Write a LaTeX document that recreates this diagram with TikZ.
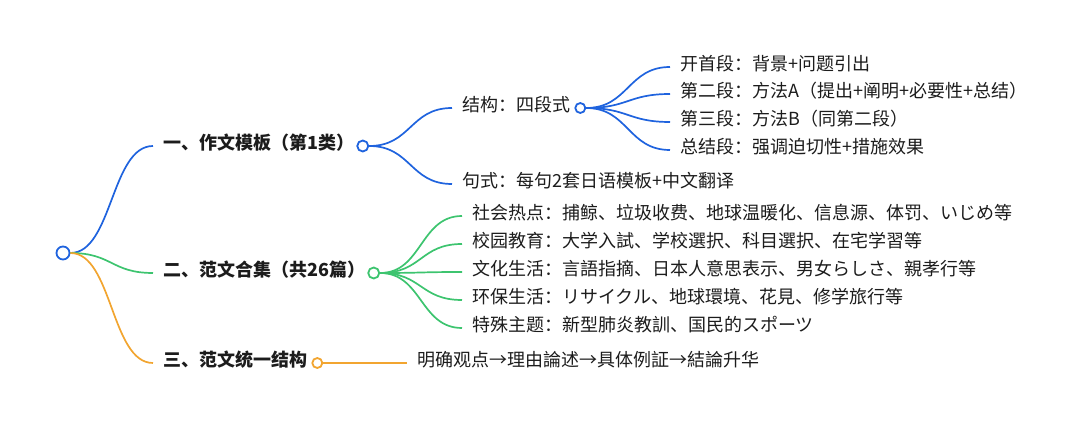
\documentclass[tikz,border=0pt]{standalone}
\usepackage{fontspec}
\setmainfont{Noto Sans CJK SC}
\definecolor{cblue}{HTML}{1F63DE}
\definecolor{cgreen}{HTML}{3DC46F}
\definecolor{corange}{HTML}{F2A530}
\definecolor{txt}{HTML}{1C1C1C}
\begin{document}
\begin{tikzpicture}[x=1pt,y=-1pt,
  lbl/.style={anchor=west, inner xsep=0pt, inner ysep=0pt, text height=0.76em, text depth=0pt,
    font=\fontsize{18}{18}\selectfont, text=txt},
  hlbl/.style={lbl, font=\fontsize{18}{18}\selectfont\bfseries},
  dot/.style={circle, draw, fill=white, line width=1.8pt, inner sep=0pt, minimum size=#1},
  link/.style={line width=1.7pt}]
\useasboundingbox (0,0) rectangle (1080,427);

% root
\node[dot=13pt, draw=cblue] (root) at (63,253) {};

% level 1
\node[hlbl] (n1) at (163,146) {一、作文模板（第1类）};
\node[hlbl] (n2) at (163,273) {二、范文合集（共26篇）};
\node[hlbl] (n3) at (163,363) {三、范文统一结构};
\node[dot=11pt, draw=cblue, anchor=west] (c1) at ([xshift=2pt]n1.east) {};
\node[dot=11pt, draw=cgreen, anchor=west] (c2) at ([xshift=2pt]n2.east) {};
\node[dot=10pt, draw=corange, anchor=west] (c3) at ([xshift=4pt]n3.east) {};

\draw[link, cblue] (root.east) .. controls +(42,0) and +(-42,0) .. ([xshift=-10pt]n1.west);
\draw[link, cgreen] (root.east) .. controls +(42,0) and +(-42,0) .. ([xshift=-10pt]n2.west);
\draw[link, corange] (root.east) .. controls +(42,0) and +(-42,0) .. ([xshift=-10pt]n3.west);

% branch 1
\node[lbl] (s1) at (462,108) {结构：四段式};
\node[lbl] (s2) at (462,184) {句式：每句2套日语模板+中文翻译};
\node[dot=10pt, draw=cblue, anchor=west] (d1) at ([xshift=4pt]s1.east) {};
\draw[link, cblue] (c1.east) .. controls +(42,0) and +(-42,0) .. ([xshift=-10pt]s1.west);
\draw[link, cblue] (c1.east) .. controls +(42,0) and +(-42,0) .. ([xshift=-10pt]s2.west);

\node[lbl] (t1) at (680,67) {开首段：背景+问题引出};
\node[lbl] (t2) at (680,94) {第二段：方法A（提出+阐明+必要性+总结）};
\node[lbl] (t3) at (680,122) {第三段：方法B（同第二段）};
\node[lbl] (t4) at (680,150) {总结段：强调迫切性+措施效果};
\foreach \t in {t1,t2,t3,t4}
  \draw[link, cblue] (d1.east) .. controls +(42,0) and +(-42,0) .. ([xshift=-10pt]\t.west);

% branch 2
\node[lbl] (g1) at (472,216) {社会热点：捕鲸、垃圾收费、地球温暖化、信息源、体罚、いじめ等};
\node[lbl] (g2) at (472,244) {校园教育：大学入試、学校選択、科目選択、在宅学習等};
\node[lbl] (g3) at (472,272) {文化生活：言語指摘、日本人意思表示、男女らしさ、親孝行等};
\node[lbl] (g4) at (472,300) {环保生活：リサイクル、地球環境、花見、修学旅行等};
\node[lbl] (g5) at (472,328) {特殊主题：新型肺炎教訓、国民的スポーツ};
\foreach \g in {g1,g2,g3,g4,g5}
  \draw[link, cgreen] (c2.east) .. controls +(42,0) and +(-42,0) .. ([xshift=-10pt]\g.west);

% branch 3
\node[lbl] (o1) at (417,363) {明确观点→理由論述→具体例証→結論升华};
\draw[link, corange] (c3.east) -- ([xshift=-10pt]o1.west);
\end{tikzpicture}
\end{document}
